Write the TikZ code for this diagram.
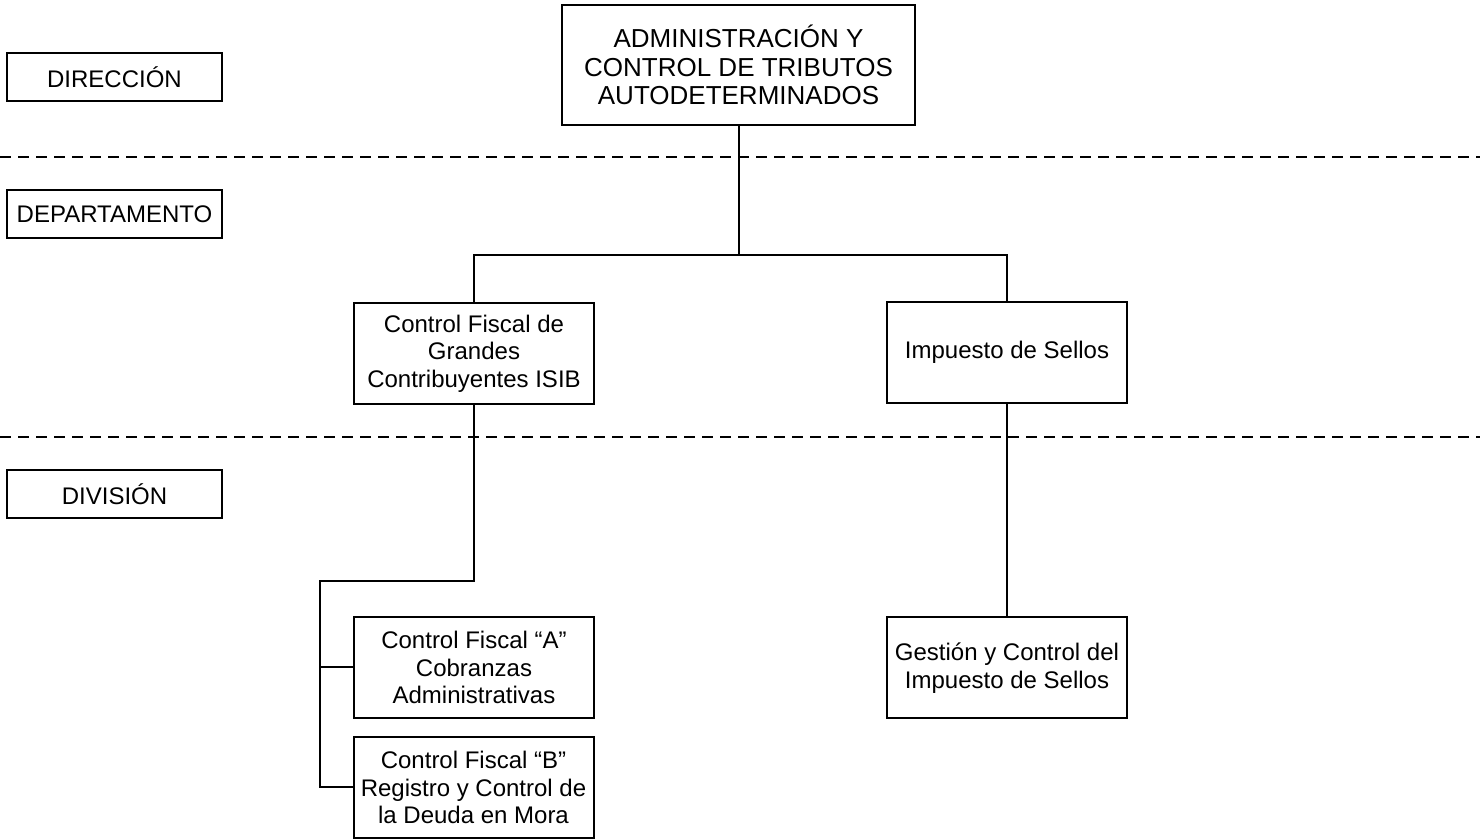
\documentclass[tikz,border=0pt]{standalone}
\usepackage{fontspec}
\setmainfont{Liberation Sans}
\usetikzlibrary{positioning}

\begin{document}
\begin{tikzpicture}[x=0.5pt, y=-0.5pt,
    caja/.style={draw, line width=1pt, align=center, inner sep=0pt, font=\fontsize{12}{13.8}\selectfont},
    nivel/.style={caja, minimum width=107.5pt, minimum height=24pt},
    unidad/.style={caja, minimum width=120pt, minimum height=50.5pt},
    linea/.style={line width=1pt},
    corte/.style={line width=1pt, dash pattern=on 5.5pt off 3.5pt}]
                    \useasboundingbox (0,0) rectangle (1480,839);
                    \node[nivel] (dir) at (114.5,77) {DIRECCIÓN};
                    \node[nivel] (dept) at (114.5,214) {DEPARTAMENTO};
                    \node[nivel] (divi) at (114.5,494) {DIVISIÓN};
                    \node[caja, minimum width=176.5pt, minimum height=60pt, font=\fontsize{13}{14.4}\selectfont] (admin) at (738.5,65) {ADMINISTRACIÓN Y\\CONTROL DE TRIBUTOS\\AUTODETERMINADOS};
                    \node[unidad] (grandes) at (474,353.5) {Control Fiscal de\\Grandes\\Contribuyentes ISIB};
                    \node[unidad] (sellos) at (1007,352.5) {Impuesto de Sellos};
                    \node[unidad] (cfa) at (474,667.5) {Control Fiscal “A”\\Cobranzas\\Administrativas};
                    \node[unidad] (cfb) at (473.5,787.5) {Control Fiscal “B”\\Registro y Control de\\la Deuda en Mora};
                    \node[unidad] (gestion) at (1007,668) {Gestión y Control del\\Impuesto de Sellos};
                    \coordinate (c1a) at (0,157);
                    \coordinate (c1b) at (1480,157);
                    \coordinate (c2a) at (0,437);
                    \coordinate (c2b) at (1480,437);
                    \coordinate (jt) at (738.5,255);
                    \coordinate (bus) at (320,581);
                    \draw[corte] (c1a) -- (c1b);
                    \draw[corte] (c2a) -- (c2b);
                    \draw[linea] (admin.south) -- (jt);
                    \draw[linea] (grandes.north) |- (jt) -| (sellos.north);
                    \draw[linea] (grandes.south) |- (bus) |- (cfb.west);
                    \draw[linea] (bus |- cfa.west) -- (cfa.west);
                    \draw[linea] (sellos.south) -- (gestion.north);
                \end{tikzpicture}
\end{document}
